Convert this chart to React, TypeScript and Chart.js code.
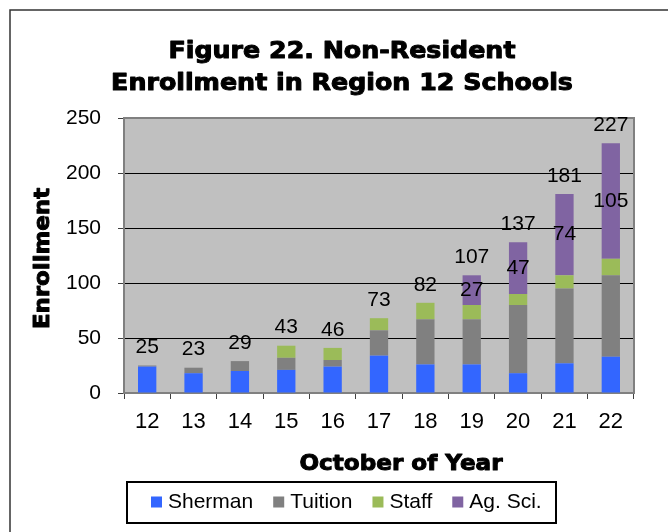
import React, { useEffect, useRef } from "react";
import { Chart, registerables } from "chart.js";

Chart.register(...registerables);

// ---- data ----
const years = ["12", "13", "14", "15", "16", "17", "18", "19", "20", "21", "22"];
const sherman = [24, 18, 20, 21, 24, 34, 26, 26, 18, 27, 33];
const tuition = [1, 5, 9, 11, 6, 23, 41, 41, 62, 68, 74];
const staff = [0, 0, 0, 11, 11, 11, 15, 13, 10, 12, 15];
const agSci = [0, 0, 0, 0, 0, 0, 0, 27, 47, 74, 105];
const totalLabels = [25, 23, 29, 43, 46, 73, 82, 107, 137, 181, 227];

const seriesNames = ["Sherman", "Tuition", "Staff", "Ag. Sci."];
const seriesColors = ["#3366FF", "#808080", "#9BBB59", "#8064A2"];

const titleLines = ["Figure 22. Non-Resident", "Enrollment in Region 12 Schools"];
const xTitle = "October of Year";
const yTitle = "Enrollment";
const yMin = 0;
const yMax = 250;
const yStep = 50;

const REG = "'Liberation Sans', Arial, sans-serif";
const BOLD = "'DejaVu Sans', sans-serif";

function stretchedText(
  ctx: CanvasRenderingContext2D,
  text: string,
  x: number,
  y: number,
  font: string,
  sx: number,
  rot = 0
) {
  ctx.save();
  ctx.translate(x, y);
  if (rot) ctx.rotate(rot);
  ctx.scale(sx, 1);
  ctx.font = font;
  ctx.fillStyle = "#000";
  ctx.strokeStyle = "#000";
  ctx.lineWidth = 1;
  ctx.lineJoin = "round";
  ctx.textAlign = "center";
  ctx.textBaseline = "alphabetic";
  ctx.fillText(text, 0, 0);
  ctx.strokeText(text, 0, 0);
  ctx.restore();
}

const decor = {
  id: "decor",
  beforeDraw(chart: any) {
    const { ctx, chartArea: a, width, height } = chart;
    ctx.save();
    ctx.fillStyle = "#fff";
    ctx.fillRect(0, 0, width, height);
    ctx.fillStyle = "#C0C0C0";
    ctx.fillRect(a.left, a.top, a.right - a.left, a.bottom - a.top);
    // outer chart frame (runs off the picture right and bottom)
    ctx.strokeStyle = "#333";
    ctx.lineWidth = 1.5;
    ctx.beginPath();
    ctx.moveTo(10, height + 2);
    ctx.lineTo(10, 10);
    ctx.lineTo(width + 2, 10);
    ctx.stroke();
    ctx.restore();
  },
  beforeDatasetsDraw(chart: any) {
    const { ctx, chartArea: a } = chart;
    ctx.save();
    ctx.strokeStyle = "#808080";
    ctx.lineWidth = 2;
    ctx.beginPath();
    ctx.moveTo(a.left, a.top);
    ctx.lineTo(a.right, a.top);
    ctx.lineTo(a.right, a.bottom);
    ctx.stroke();
    ctx.restore();
  },
  afterDatasetsDraw(chart: any) {
    const { ctx } = chart;
    const x = chart.scales.x;
    const y = chart.scales.y;
    ctx.save();
    ctx.fillStyle = "#000";
    ctx.font = `21px ${REG}`;
    ctx.textAlign = "center";
    ctx.textBaseline = "middle";
    years.forEach((_, i) => {
      const stackTop = sherman[i] + tuition[i] + staff[i] + agSci[i];
      const px = x.getPixelForValue(i);
      ctx.fillText(String(totalLabels[i]), px, y.getPixelForValue(stackTop) - 18);
      if (agSci[i] > 0) {
        const base = sherman[i] + tuition[i] + staff[i];
        ctx.fillText(String(agSci[i]), px, y.getPixelForValue(base + agSci[i] / 2));
      }
    });
    ctx.restore();
  },
  afterDraw(chart: any) {
    const { ctx } = chart;
    // titles
    stretchedText(ctx, titleLines[0], 342, 58, `bold 23px ${BOLD}`, 1.1);
    stretchedText(ctx, titleLines[1], 342, 90, `bold 23px ${BOLD}`, 1.1);
    stretchedText(ctx, xTitle, 401, 470, `bold 22px ${BOLD}`, 1.05);
    stretchedText(ctx, yTitle, 49, 258.5, `bold 22px ${BOLD}`, 1.04, -Math.PI / 2);

    // legend
    ctx.save();
    ctx.strokeStyle = "#000";
    ctx.lineWidth = 2;
    ctx.strokeRect(127, 482, 429, 41);
    ctx.font = `21px ${REG}`;
    ctx.textBaseline = "middle";
    ctx.textAlign = "left";
    let lx = 151;
    const cy = 502;
    chart.data.datasets.forEach((ds: any) => {
      ctx.fillStyle = ds.backgroundColor;
      ctx.fillRect(lx, cy - 5.5, 11, 11);
      lx += 17;
      ctx.fillStyle = "#000";
      ctx.fillText(ds.label, lx, cy);
      lx += ctx.measureText(ds.label).width + 20;
    });
    ctx.restore();
  },
};

export default function App() {
  const ref = useRef<HTMLCanvasElement | null>(null);

  useEffect(() => {
    if (!ref.current) return;
    const seriesData = [sherman, tuition, staff, agSci];
    const chart = new Chart(ref.current, {
      type: "bar",
      data: {
        labels: years,
        datasets: seriesNames.map((name, k) => ({
          label: name,
          data: seriesData[k],
          backgroundColor: seriesColors[k],
          borderWidth: 0,
          barPercentage: 0.395,
          categoryPercentage: 1,
          stack: "s",
        })),
      },
      options: {
        responsive: false,
        maintainAspectRatio: false,
        devicePixelRatio: 1,
        animation: false,
        layout: { padding: { top: 118, right: 34, left: 0, bottom: 0 } },
        plugins: {
          legend: { display: false },
          title: { display: false },
          tooltip: { enabled: false },
        },
        scales: {
          x: {
            stacked: true,
            grid: {
              offset: true,
              drawOnChartArea: false,
              drawTicks: true,
              tickLength: 6,
              color: "#404040",
              lineWidth: 1,
            },
            border: { color: "#808080", width: 2 },
            ticks: {
              color: "#000",
              font: { family: REG, size: 22 },
              padding: 10,
              maxRotation: 0,
              autoSkip: false,
            },
            afterFit: (s: any) => {
              s.height = 139;
            },
          },
          y: {
            stacked: true,
            min: yMin,
            max: yMax,
            grid: {
              color: "#000",
              lineWidth: 1,
              drawTicks: true,
              tickLength: 6,
              tickColor: "#404040",
            },
            border: { color: "#808080", width: 2 },
            ticks: {
              stepSize: yStep,
              color: "#000",
              font: { family: REG, size: 21 },
              padding: 17,
            },
            afterFit: (s: any) => {
              s.width = 124;
            },
          },
        },
      },
      plugins: [decor],
    });
    return () => chart.destroy();
  }, []);

  return (
    <div style={{ position: "fixed", left: 0, top: 0, width: 668, height: 532 }}>
      <canvas ref={ref} width={668} height={532} style={{ display: "block" }} />
    </div>
  );
}
